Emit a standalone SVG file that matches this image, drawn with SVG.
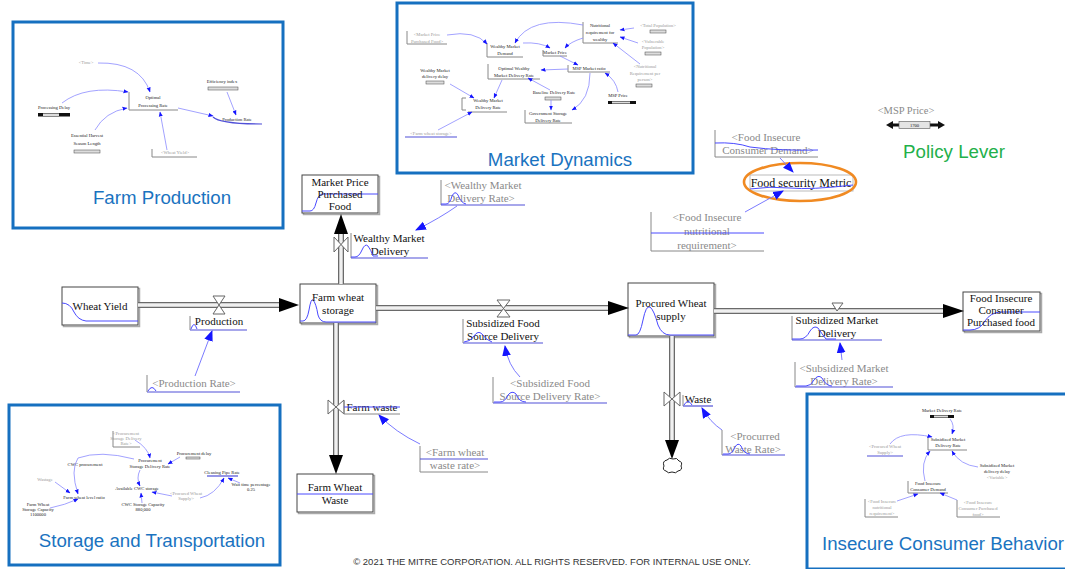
<svg xmlns="http://www.w3.org/2000/svg" width="1065" height="569" viewBox="0 0 1065 569">
<defs>
<style>
.t{font-family:"Liberation Serif",serif;font-size:11px;fill:#111;text-anchor:middle}
.g{fill:#8a8a8a}
.s{font-family:"Liberation Serif",serif;font-size:4.6px;fill:#222;text-anchor:middle}
.sg{fill:#999}
.title{font-family:"Liberation Sans",Arial,sans-serif;font-size:18.7px;fill:#1a73c0;text-anchor:middle}
.frame{fill:#fff;stroke:#1670c0;stroke-width:3}
.stock{fill:#fff;stroke:#444;stroke-width:1}
.shadow{fill:none;stroke:#aaa;stroke-width:1.5}
.spark{fill:none;stroke:#4a4aff;stroke-width:1}
.brk{fill:none;stroke:#888;stroke-width:1}
.ul{fill:none;stroke:#5050d8;stroke-width:1.2}
.po{fill:none;stroke:#6a6a6a;stroke-width:6}
.pi{fill:none;stroke:#f0f0f0;stroke-width:3.4}
.head{fill:#000}
.valve{fill:#fff;stroke:#666;stroke-width:1}
.lk{fill:none;stroke:#7b7bff;stroke-width:1}
.lks{fill:none;stroke:#8a8aff;stroke-width:0.8}
.sl{fill:#ddd;stroke:#444;stroke-width:0.5}
</style>
<marker id="ab" viewBox="0 0 10 10" refX="9" refY="5" markerUnits="userSpaceOnUse" markerWidth="11" markerHeight="11" orient="auto"><path d="M0,1 L10,5 L0,9 Z" fill="#1515ff"/></marker>
<marker id="as" viewBox="0 0 10 10" refX="9" refY="5" markerUnits="userSpaceOnUse" markerWidth="5" markerHeight="5" orient="auto"><path d="M0,1 L10,5 L0,9 Z" fill="#1515ff"/></marker>
</defs>
<rect width="1065" height="569" fill="#fff"/>

<!-- Farm Production panel -->
<g id="farm-production">
<rect class="frame" x="13" y="22" width="270" height="206"/>
<text class="title" x="162" y="204">Farm Production</text>
<text class="s sg" x="86" y="64">&lt;Time&gt;</text>
<text class="s" x="153" y="99">Optimal</text>
<text class="s" x="153" y="107">Processing Rate</text>
<path class="brk" d="M129,92 V110 H178"/>
<text class="s" x="222" y="83">Efficiency index</text>
<rect class="sl" x="208" y="87" width="30" height="3"/>
<text class="s" x="54" y="109">Processing Delay</text>
<rect x="38" y="113" width="32" height="3.5" fill="#111"/><rect x="43" y="113.5" width="16" height="2.5" fill="#ddd"/>
<text class="s" x="237" y="121">Production Rate</text>
<path class="ul" d="M213,117 Q220,124 262,124"/>
<text class="s" x="87" y="137">Essential Harvest</text>
<text class="s" x="87" y="145">Season Length</text>
<rect class="sl" x="74" y="150" width="26" height="3"/>
<text class="s sg" x="175" y="154">&lt;Wheat Yield&gt;</text>
<path class="brk" d="M152,149 V157 H197"/>
<path class="lks" marker-end="url(#as)" d="M98,63 Q140,62 150,92"/>
<path class="lks" marker-end="url(#as)" d="M62,103 Q85,85 128,92"/>
<path class="lks" marker-end="url(#as)" d="M95,130 Q105,112 127,108"/>
<path class="lks" marker-end="url(#as)" d="M178,108 L213,116"/>
<path class="lks" marker-end="url(#as)" d="M227,92 L236,115"/>
<path class="lks" marker-end="url(#as)" d="M167,150 L160,112"/>
</g>

<!-- Market Dynamics panel -->
<g id="market-dynamics">
<rect class="frame" x="397" y="3" width="296" height="170"/>
<text class="title" x="560" y="166">Market Dynamics</text>
<text class="s sg" x="427" y="36">&lt;Market Price</text>
<text class="s sg" x="427" y="43">Purchased Food&gt;</text>
<path class="brk" d="M407,31 V44 H447"/>
<text class="s" x="505" y="48">Wealthy Market</text>
<text class="s" x="505" y="55">Demand</text>
<path class="brk" d="M487,43 V57 H523"/>
<text class="s" x="600" y="27">Nutritional</text>
<text class="s" x="600" y="34">requirement for</text>
<text class="s" x="600" y="41">wealthy</text>
<path class="brk" d="M583,22 V43 H618"/>
<text class="s sg" x="658" y="27">&lt;Total Population&gt;</text>
<rect class="sl" x="650" y="30" width="16" height="3"/>
<text class="s sg" x="653" y="43">&lt;Vulnerable</text>
<text class="s sg" x="653" y="49">Population&gt;</text>
<rect class="sl" x="645" y="52" width="16" height="3"/>
<text class="s sg" x="645" y="68">&lt;Nutritional</text>
<text class="s sg" x="645" y="75">Requirement per</text>
<text class="s sg" x="645" y="81">person&gt;</text>
<rect class="sl" x="636" y="84" width="16" height="3"/>
<text class="s" x="555" y="54">Market Price</text>
<path class="brk" d="M543,50 V56 H567"/>
<text class="s" x="589" y="70">MSP Market ratio</text>
<path class="brk" d="M568,65 V72 H610"/>
<text class="s" x="514" y="70">Optimal Wealthy</text>
<text class="s" x="514" y="77">Market Delivery Rate</text>
<path class="brk" d="M488,64 V79 H540"/>
<text class="s" x="435" y="72">Wealthy Market</text>
<text class="s" x="435" y="78">delivery delay</text>
<rect class="sl" x="426" y="81" width="18" height="3"/>
<text class="s" x="554" y="94">Baseline Delivery Rate</text>
<rect class="sl" x="545" y="97" width="16" height="3"/>
<text class="s" x="618" y="97">MSP Price</text>
<rect x="608" y="101" width="28" height="3" fill="#111"/><rect x="612" y="101.5" width="18" height="2" fill="#ddd"/>
<text class="s" x="488" y="102">Wealthy Market</text>
<text class="s" x="488" y="109">Delivery Rate</text>
<path class="brk" d="M462,98 h4 M462,98 V110 h4 M468,112 H507"/>
<text class="s" x="548" y="115">Government Storage</text>
<text class="s" x="548" y="122">Delivery Rate</text>
<path class="brk" d="M525,110 V123 H572"/>
<text class="s sg" x="431" y="135">&lt;Farm wheat storage&gt;</text>
<path class="ul" d="M405,137 H457"/>
<path class="lks" marker-end="url(#as)" d="M447,35 Q475,30 487,44"/>
<path class="lks" marker-end="url(#as)" d="M583,25 Q530,15 515,43"/>
<path class="lks" marker-end="url(#as)" d="M523,43 Q540,42 550,48"/>
<path class="lks" marker-end="url(#as)" d="M583,38 Q570,42 565,48"/>
<path class="lks" marker-end="url(#as)" d="M634,28 L620,30"/>
<path class="lks" marker-end="url(#as)" d="M638,43 L620,37"/>
<path class="lks" marker-end="url(#as)" d="M640,64 L613,43"/>
<path class="lks" marker-end="url(#as)" d="M560,56 L578,65"/>
<path class="lks" marker-end="url(#as)" d="M568,69 L541,70"/>
<path class="lks" marker-end="url(#as)" d="M590,73 Q590,100 572,110"/>
<path class="lks" marker-end="url(#as)" d="M618,92 Q616,80 605,73"/>
<path class="lks" marker-end="url(#as)" d="M550,90 L528,78"/>
<path class="lks" marker-end="url(#as)" d="M551,100 L551,110"/>
<path class="lks" marker-end="url(#as)" d="M502,80 L494,98"/>
<path class="lks" marker-end="url(#as)" d="M450,84 L474,98"/>
<path class="lks" marker-end="url(#as)" d="M438,130 L472,112"/>
</g>

<!-- Storage and Transportation panel -->
<g id="storage-transportation">
<rect class="frame" x="9" y="405" width="271" height="160"/>
<text class="title" x="152" y="547">Storage and Transportation</text>
<text class="s sg" x="126" y="435">&lt;Procurement</text>
<text class="s sg" x="126" y="440">Storage Delivery</text>
<text class="s sg" x="126" y="445">Rate&gt;</text>
<path class="brk" d="M113,431 V447 H140"/>
<text class="s" x="150" y="462">Procurement</text>
<text class="s" x="150" y="468">Storage Delivery Rate</text>
<text class="s" x="194" y="455">Procurement delay</text>
<rect class="sl" x="186" y="457" width="14" height="2"/>
<text class="s" x="85" y="466">CWC procurement</text>
<text class="s sg" x="45" y="481">Wastage</text>
<text class="s" x="84" y="499">Farm wheat level ratio</text>
<text class="s" x="38" y="506">Farm Wheat</text>
<text class="s" x="38" y="511">Storage Capacity</text>
<text class="s" x="38" y="516">1100000</text>
<text class="s" x="137" y="490">Available CWC storage</text>
<text class="s" x="143" y="506">CWC Storage Capacity</text>
<text class="s" x="143" y="511">880,000</text>
<text class="s sg" x="186" y="495">&lt;Procured Wheat</text>
<text class="s sg" x="186" y="500">Supply&gt;</text>
<text class="s" x="222" y="474">Cleaning Pipe Rate</text>
<path class="ul" d="M207,476 H238"/>
<text class="s" x="251" y="486">Wait time percentage</text>
<text class="s" x="251" y="491">0.25</text>
<path class="lks" marker-end="url(#as)" d="M135,440 Q148,448 150,458"/>
<path class="lks" marker-end="url(#as)" d="M180,457 L168,464"/>
<path class="lks" marker-end="url(#as)" d="M134,459 Q100,450 78,458 Q70,470 78,494"/>
<path class="lks" marker-end="url(#as)" d="M55,482 L70,493"/>
<path class="lks" marker-end="url(#as)" d="M50,508 Q65,505 78,499"/>
<path class="lks" marker-end="url(#as)" d="M140,470 Q136,478 140,486"/>
<path class="lks" marker-end="url(#as)" d="M142,503 L141,493"/>
<path class="lks" marker-end="url(#as)" d="M172,496 L152,492"/>
<path class="lks" marker-end="url(#as)" d="M200,498 Q215,495 224,478"/>
<path class="lks" marker-end="url(#as)" d="M240,483 L228,478"/>
</g>

<!-- Insecure Consumer Behavior panel -->
<g id="insecure-consumer">
<rect class="frame" x="807" y="394" width="262" height="175"/>
<text class="title" x="822" y="550" style="text-anchor:start">Insecure Consumer Behavior</text>
<text class="s" x="942" y="412">Market Delivery Rate</text>
<rect x="930" y="415" width="24" height="3" fill="#111"/><rect x="934" y="415.5" width="14" height="2" fill="#ddd"/>
<text class="s" x="948" y="441">Subsidized Market</text>
<text class="s" x="948" y="447">Delivery Rate</text>
<path class="brk" d="M928,437 V450 H967"/>
<text class="s sg" x="885" y="448">&lt;Procured Wheat</text>
<text class="s sg" x="885" y="454">Supply&gt;</text>
<path class="ul" d="M867,456 H903"/>
<text class="s" x="997" y="467">Subsidized Market</text>
<text class="s" x="997" y="473">delivery delay</text>
<text class="s sg" x="997" y="479">&lt;Variable&gt;</text>
<text class="s" x="928" y="485">Food Insecure</text>
<text class="s" x="928" y="491">Consumer Demand</text>
<path class="brk" d="M908,481 V493 H948"/>
<text class="s sg" x="882" y="503">&lt;Food Insecure</text>
<text class="s sg" x="882" y="509">nutritional</text>
<text class="s sg" x="882" y="515">requirement&gt;</text>
<path class="brk" d="M865,499 V517 H898"/>
<text class="s sg" x="978" y="504">&lt;Food Insecure</text>
<text class="s sg" x="978" y="510">Consumer Purchased</text>
<text class="s sg" x="978" y="516">food&gt;</text>
<path class="brk" d="M957,500 V517 H1000"/>
<path class="lks" marker-end="url(#as)" d="M950,419 Q955,425 952,434"/>
<path class="lks" marker-end="url(#as)" d="M890,444 Q900,430 932,437"/>
<path class="lks" marker-end="url(#as)" d="M978,467 Q960,465 952,451"/>
<path class="lks" marker-end="url(#as)" d="M925,481 Q920,462 930,451"/>
<path class="lks" marker-end="url(#as)" d="M897,501 L918,494"/>
<path class="lks" marker-end="url(#as)" d="M957,500 L940,493"/>
</g>

<!-- Policy lever -->
<g id="policy-lever">
<text class="t g" x="906" y="114" style="font-size:10.5px">&lt;MSP Price&gt;</text>
<path d="M886,125 L893,121 V129 Z M945,125 L938,121 V129 Z" fill="#111"/>
<rect x="893" y="123.5" width="45" height="3" fill="#111"/>
<rect x="899" y="121.5" width="31" height="7" fill="#e4e4e4" stroke="#555" stroke-width="0.6"/>
<text class="s" x="914.5" y="127">1700</text>
<text class="title" x="954" y="158" style="fill:#22b04a">Policy Lever</text>
</g>

<!-- Food security metric -->
<g id="food-security-metric">
<rect x="750" y="175" width="103" height="16" fill="none" stroke="#bbb" stroke-width="1"/>
<text class="t" x="801" y="187" style="font-size:12px">Food security Metric</text>
<path class="spark" d="M750,189 Q770,186 790,188 T853,185"/>
<ellipse cx="800" cy="182" rx="56" ry="19" fill="none" stroke="#f08a22" stroke-width="2.6"/>
</g>
<g id="fi-consumer-demand-ghost">
<text class="t g" x="766" y="141">&lt;Food Insecure</text>
<text class="t g" x="768" y="154">Consumer Demand&gt;</text>
<path class="brk" d="M715,130 V157 H818"/>
<path class="spark" d="M715,143 Q735,142 750,147 Q780,151 818,150"/>
</g>
<g id="fi-nutritional-ghost">
<text class="t g" x="707" y="221">&lt;Food Insecure</text>
<text class="t g" x="707" y="235">nutritional</text>
<text class="t g" x="707" y="249">requirement&gt;</text>
<path class="brk" d="M651,212 V251 H764"/>
<path class="spark" d="M651,233 H764"/>
</g>

<!-- Stocks -->
<g id="wheat-yield">
<rect class="shadow" x="63.5" y="288.5" width="76" height="38"/>
<rect class="stock" x="62" y="287" width="76" height="38"/>
<path class="spark" d="M62,303 Q70,303 74,312 Q78,320 86,321 H138"/>
<text class="t" x="100" y="310">Wheat Yield</text>
</g>
<g id="farm-wheat-storage">
<rect class="shadow" x="301.5" y="285.5" width="76" height="39"/>
<rect class="stock" x="300" y="284" width="76" height="39"/>
<path class="spark" d="M300,321 H303 Q307,321 309,310 Q311,298 313,300 Q316,303 318,315 Q320,322 326,322 H376"/>
<text class="t" x="338" y="301">Farm wheat</text>
<text class="t" x="338" y="314">storage</text>
</g>
<g id="market-price-purchased-food">
<rect class="shadow" x="303.5" y="176.5" width="76" height="38"/>
<rect class="stock" x="302" y="175" width="76" height="38"/>
<path class="spark" d="M302,211 H310 Q314,211 316,203 Q318,195 322,194 H378"/>
<text class="t" x="340" y="186">Market Price</text>
<text class="t" x="340" y="198">Purchased</text>
<text class="t" x="340" y="210">Food</text>
</g>
<g id="procured-wheat-supply">
<rect class="shadow" x="629.5" y="284.5" width="86" height="53"/>
<rect class="stock" x="628" y="283" width="86" height="53"/>
<path class="spark" d="M628,335 H636 Q640,335 643,320 Q646,305 650,307 Q654,310 658,325 Q662,335 670,335 H714"/>
<text class="t" x="671" y="307">Procured Wheat</text>
<text class="t" x="671" y="320">supply</text>
</g>
<g id="fi-consumer-purchased-food">
<rect class="shadow" x="964.5" y="293.5" width="77" height="39"/>
<rect class="stock" x="963" y="292" width="77" height="39"/>
<path class="spark" d="M963,330 H970 Q980,330 985,321 Q990,313 1000,312 H1040"/>
<text class="t" x="1001" y="302">Food Insecure</text>
<text class="t" x="1001" y="314">Consumer</text>
<text class="t" x="1001" y="326">Purchased food</text>
</g>
<g id="farm-wheat-waste">
<rect class="shadow" x="298.5" y="475.5" width="76" height="38"/>
<rect class="stock" x="297" y="474" width="76" height="38"/>
<path class="spark" d="M297,494 H373"/>
<text class="t" x="335" y="491">Farm Wheat</text>
<text class="t" x="335" y="504">Waste</text>
</g>

<!-- Connectors: pipes, valves, info links -->
<g id="connectors">
<path class="po" d="M138,305 H282 M341,284 V232 M376,308 H610 M714,311 H945 M336,323 V456 M672,336 V441"/>
<path class="pi" d="M138,305 H282 M341,284 V232 M376,308 H610 M714,311 H945 M336,323 V456 M672,336 V441"/>
<polygon class="head" points="279,298 299,305 279,312"/>
<polygon class="head" points="334,234 341,214 348,234"/>
<polygon class="head" points="608,301 629,308 608,315"/>
<polygon class="head" points="943,304 964,311 943,318"/>
<polygon class="head" points="329,455 336,474 343,455"/>
<polygon class="head" points="665,440 672,459 679,440"/>
<path d="M664,466 q-2,-5 3,-6 q2,-3 6,-1 q4,-2 6,2 q4,1 2,5 q2,4 -3,5 q-2,3 -6,1 q-4,2 -6,-1 q-4,-1 -2,-5 z" fill="#fff" stroke="#222" stroke-width="1"/>
<path class="valve" d="M213,296 H225 L213,314 H225 Z"/>
<path class="valve" d="M334,237 V252 L348,237 V252 Z"/>
<path class="valve" d="M497,300 H510 L497,317 H510 Z"/>
<path class="valve" d="M832,303 H843 L837,311 Z"/>
<path class="valve" d="M328,400 V414 L344,400 V414 Z"/>
<path class="valve" d="M664,392 V406 L680,392 V406 Z"/>
<path class="lk" marker-end="url(#ab)" d="M195,376 L212,331"/>
<path class="lk" marker-end="url(#ab)" d="M457,206 Q440,218 416,230"/>
<path class="lk" marker-end="url(#ab)" d="M520,377 Q508,365 505,346"/>
<path class="lk" marker-end="url(#ab)" d="M842,360 L840,343"/>
<path class="lk" marker-end="url(#ab)" d="M420,444 Q395,432 379,415"/>
<path class="lk" marker-end="url(#ab)" d="M722,430 Q710,422 702,408"/>
<path class="lk" marker-end="url(#ab)" d="M780,158 L793,172"/>
<path class="lk" marker-end="url(#ab)" d="M745,212 L783,191"/>
</g>

<!-- Flow labels -->
<g id="production">
<text class="t" x="219" y="325">Production</text>
<path class="brk" d="M190,316 V330"/>
<path class="ul" d="M190,330 H247"/>
<path class="spark" d="M191,329 Q194,320 197,329"/>
</g>
<g id="wealthy-market-delivery">
<text class="t" x="389" y="242">Wealthy Market</text>
<text class="t" x="390" y="255">Delivery</text>
<path class="brk" d="M351,233 V258"/>
<path class="ul" d="M351,258 H428"/>
<path class="spark" d="M351,257 H355 Q359,257 362,250 Q365,243 368,246 Q371,250 373,256 H378"/>
</g>
<g id="subsidized-food-source-delivery">
<text class="t" x="503" y="327">Subsidized Food</text>
<text class="t" x="503" y="340">Source Delivery</text>
<path class="brk" d="M463,319 V343"/>
<path class="ul" d="M463,343 H543"/>
<path class="spark" d="M464,342 Q470,342 474,336 Q478,330 482,334 Q486,340 492,342"/>
</g>
<g id="subsidized-market-delivery">
<text class="t" x="837" y="324">Subsidized Market</text>
<text class="t" x="837" y="337">Delivery</text>
<path class="brk" d="M792,316 V340"/>
<path class="ul" d="M792,340 H882"/>
<path class="spark" d="M792,339 H800 Q806,339 810,331 Q814,325 818,328 Q822,334 826,339 H836"/>
</g>
<g id="farm-waste">
<text class="t" x="372" y="411">Farm waste</text>
<path class="brk" d="M344,401 V414 H400"/>
<path class="spark" d="M344,407 H400"/>
</g>
<g id="waste">
<text class="t" x="698" y="403">Waste</text>
<path class="brk" d="M683,395 V406"/>
<path class="ul" d="M683,406 H713"/>
<path class="spark" d="M684,405 Q688,398 692,405"/>
</g>

<!-- Shadow variable labels -->
<g id="production-rate-ghost">
<text class="t g" x="194" y="387">&lt;Production Rate&gt;</text>
<path class="brk" d="M147,375 V392"/>
<path class="ul" d="M147,392 H240"/>
<path class="spark" d="M148,391 Q152,384 156,391"/>
</g>
<g id="wealthy-market-delivery-rate-ghost">
<text class="t g" x="483" y="189">&lt;Wealthy Market</text>
<text class="t g" x="481" y="202">Delivery Rate&gt;</text>
<path class="brk" d="M441,180 V205"/>
<path class="ul" d="M441,205 H525"/>
<path class="spark" d="M441,204 H446 Q450,204 452,196 Q455,190 458,195 Q461,203 466,204"/>
</g>
<g id="subsidized-food-source-delivery-rate-ghost">
<text class="t g" x="550" y="387">&lt;Subsidized Food</text>
<text class="t g" x="550" y="400">Source Delivery Rate&gt;</text>
<path class="brk" d="M493,377 V403"/>
<path class="ul" d="M493,403 H607"/>
<path class="spark" d="M494,402 H500 Q505,402 508,395 Q512,390 516,394 Q519,402 526,402"/>
</g>
<g id="subsidized-market-delivery-rate-ghost">
<text class="t g" x="844" y="372">&lt;Subsidized Market</text>
<text class="t g" x="844" y="385">Delivery Rate&gt;</text>
<path class="brk" d="M795,362 V387"/>
<path class="ul" d="M795,387 H893"/>
<path class="spark" d="M796,386 H806 Q811,386 814,380 Q818,374 822,378 Q826,386 832,386"/>
</g>
<g id="farm-wheat-waste-rate-ghost">
<text class="t g" x="455" y="456">&lt;Farm wheat</text>
<text class="t g" x="455" y="469">waste rate&gt;</text>
<path class="brk" d="M420,446 V472 H488"/>
<path class="ul" d="M420,459 H488"/>
</g>
<g id="procured-waste-rate-ghost">
<text class="t g" x="755" y="440">&lt;Procurred</text>
<text class="t g" x="753" y="453">Waste Rate&gt;</text>
<path class="brk" d="M722,430 V455"/>
<path class="ul" d="M722,455 H785"/>
<path class="spark" d="M723,454 H728 Q732,454 735,447 Q738,442 741,446 Q744,454 750,454"/>
</g>

<text x="552" y="565" style="font-family:'Liberation Sans',Arial,sans-serif;font-size:9.5px;fill:#333;text-anchor:middle">© 2021 THE MITRE CORPORATION. ALL RIGHTS RESERVED. FOR INTERNAL USE ONLY.</text>
</svg>
